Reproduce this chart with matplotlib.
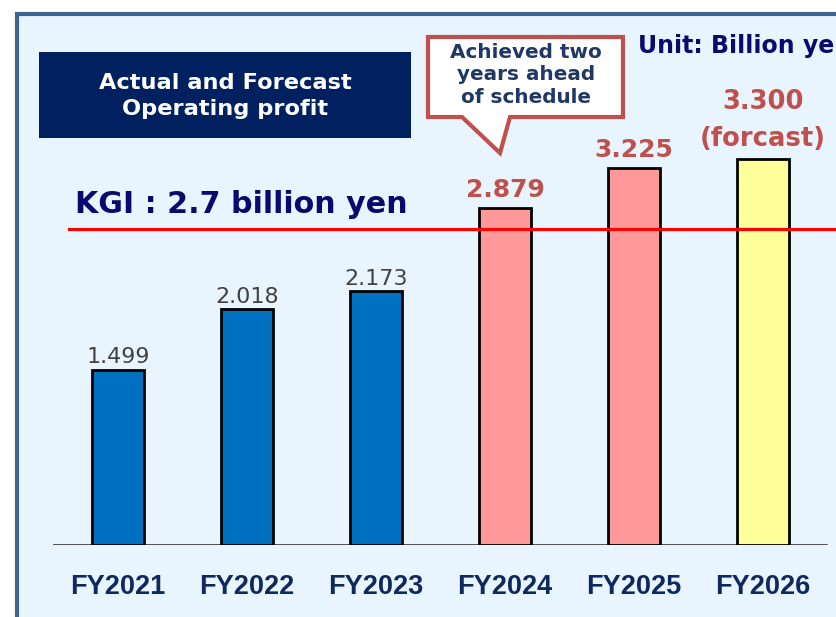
import matplotlib.pyplot as plt
from matplotlib.patches import Rectangle, Polygon

# Data
years = ["FY2021", "FY2022", "FY2023", "FY2024", "FY2025", "FY2026"]
profit = [1.499, 2.018, 2.173, 2.879, 3.225, 3.300]
kgi = 2.7
n_actual_old = 3  # first three bars are the older actuals

W, H = 836, 617
fig = plt.figure(figsize=(W / 100, H / 100), dpi=100, facecolor="white")


def fx(px):
    return px / W


def fy(py):
    return 1 - py / H


# panel background with border on left/top
fig.patches.append(Rectangle((fx(17), fy(700)), fx(900), fy(14) - fy(700),
                             transform=fig.transFigure, facecolor="#E9F5FE",
                             edgecolor="#3F6391", lw=3, zorder=-5))

ax = fig.add_axes([fx(53), 72 / H, fx(W - 53), (H - 72 - 15) / H])
ax.set_zorder(2)
ax.set_facecolor("none")
for s in ax.spines.values():
    s.set_visible(False)
ax.set_xlim(-0.504, 5.566)
ax.set_ylim(0, 530 / 117)
ax.set_yticks([])

bar_colors = ["#0070C0"] * 3 + ["#FF9999"] * 2 + ["#FFFF99"]
x = list(range(len(years)))
ax.bar(x, profit, width=0.4, color=bar_colors, edgecolor="black", lw=2, zorder=3)
ax.axhline(0, xmin=0, xmax=0.987, color="#222222", lw=1.8, zorder=2)
ax.axhline(kgi, xmin=0.02, xmax=1, color="#FF0000", lw=2.3, zorder=4)

ax.set_xticks(x)
ax.set_xticklabels(years, fontfamily="Liberation Sans", fontweight="bold",
                   fontsize=19.5, color="#0F2860")
ax.tick_params(axis="x", length=0, pad=21)

# value labels
for i, v in enumerate(profit):
    if i < n_actual_old:
        ax.annotate(f"{v:.3f}", (i, v), xytext=(0, 4.5), textcoords="offset points",
                    ha="center", va="baseline", fontsize=16, color="#404040")
    else:
        txt = f"{v:.3f}"
        off = 8
        fs = 18
        if i == len(years) - 1:
            txt += "\n(forcast)"
            off = 9.5
            fs = 18.6
        ax.annotate(txt, (i, v), xytext=(0, off), textcoords="offset points",
                    ha="center", va="baseline", fontsize=fs, fontweight="bold",
                    color="#C0504D", linespacing=1.55)

# title box
fig.patches.append(Rectangle((fx(39), fy(138)), fx(411 - 39), fy(52) - fy(138),
                             transform=fig.transFigure, facecolor="#002060",
                             edgecolor="none", zorder=3))
fig.text(fx(225), fy(96), "Actual and Forecast\nOperating profit", ha="center",
         va="center", color="white", fontsize=16.2, fontweight="bold",
         linespacing=1.32, zorder=4)

fig.text(fx(75), fy(213), "KGI : 2.7 billion yen", ha="left", va="baseline",
         color="#0A0A6E", fontsize=21.7, fontweight="bold", zorder=4)

# the unit note runs off the right edge in the original slide as well
fig.text(fx(638), fy(53), "Unit: Billion yen", ha="left", va="baseline",
         color="#0A0A6E", fontsize=17, fontweight="bold", zorder=4)

# callout
pts = [(428, 37), (623, 37), (623, 117), (510, 117), (500, 153), (462, 117), (428, 117)]
fig.patches.append(Polygon([(fx(a), fy(b)) for a, b in pts], closed=True,
                           transform=fig.transFigure, facecolor="white",
                           edgecolor="#C0504D", lw=3, joinstyle="miter", zorder=5))
fig.text(fx(526), fy(75), "Achieved two\nyears ahead\nof schedule", ha="center",
         va="center", color="#1F3864", fontsize=14.4, fontweight="bold",
         linespacing=1.22, zorder=6)

fig.savefig("out.png", dpi=100, facecolor="white")
